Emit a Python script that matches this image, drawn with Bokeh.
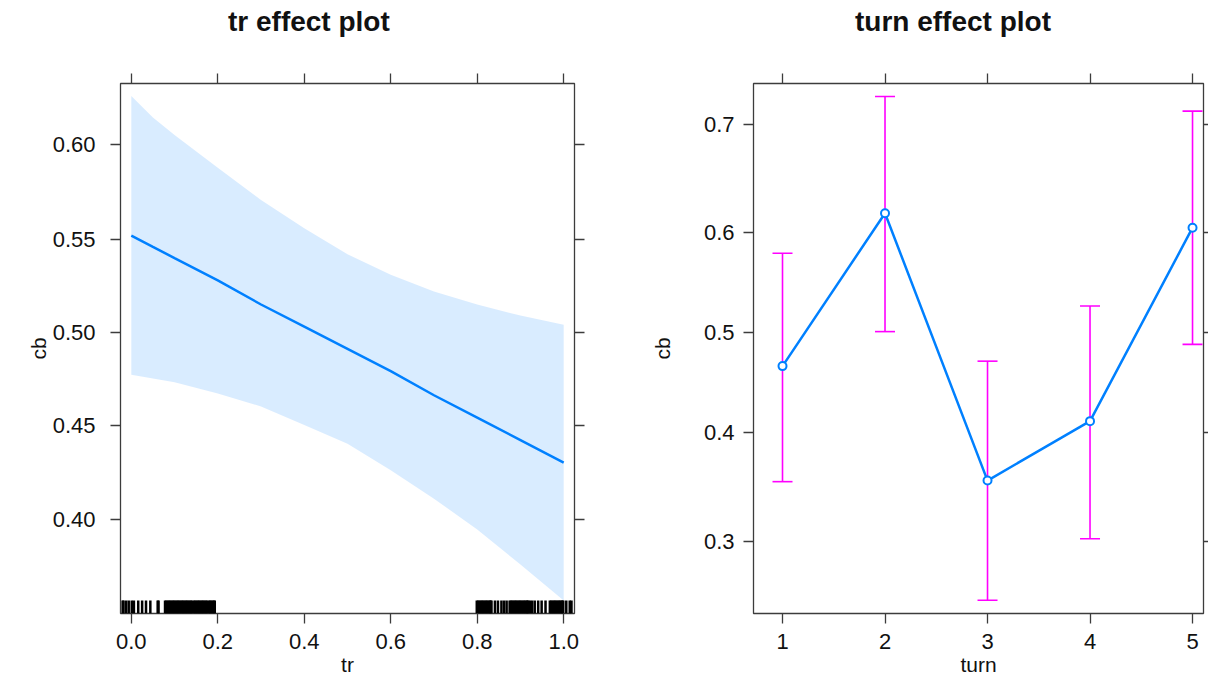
import numpy as np
from bokeh.plotting import figure
from bokeh.layouts import row, column
from bokeh.models import (Range1d, FixedTicker, LinearAxis, CustomJSTickFormatter,
                          ColumnDataSource, Whisker, TeeHead, Div)
from bokeh.embed import file_html
from bokeh.resources import INLINE

# ---------------- data ----------------
tr_x = [0.0, 0.05, 0.1, 0.2, 0.3, 0.4, 0.5, 0.6, 0.7, 0.8, 0.9, 1.0]
tr_fit = [0.552, 0.546, 0.540, 0.528, 0.515, 0.503, 0.491, 0.479, 0.466, 0.454, 0.442, 0.430]
tr_lower = [0.477, 0.475, 0.473, 0.467, 0.460, 0.450, 0.440, 0.426, 0.411, 0.395, 0.377, 0.359]
tr_upper = [0.625, 0.614, 0.605, 0.588, 0.571, 0.556, 0.542, 0.531, 0.522, 0.515, 0.509, 0.504]
tr_rug = [-0.020, -0.018, -0.012, -0.006, 0.001, 0.006, 0.016, 0.025, 0.034, 0.044,
          0.061, 0.063,
          0.078, 0.081, 0.084, 0.087, 0.090, 0.093, 0.096, 0.099, 0.102, 0.105,
          0.108, 0.111, 0.114, 0.117, 0.120, 0.123, 0.126, 0.129, 0.132, 0.135,
          0.138, 0.141,
          0.145, 0.148, 0.151, 0.154, 0.157, 0.160, 0.163, 0.166, 0.169, 0.172, 0.175,
          0.179, 0.182, 0.185, 0.188, 0.191, 0.193,
          0.799, 0.802, 0.805, 0.808, 0.811, 0.814, 0.817, 0.820, 0.823, 0.826,
          0.829, 0.831, 0.833,
          0.841, 0.848, 0.856, 0.862, 0.868,
          0.875, 0.878, 0.881, 0.884, 0.887, 0.890, 0.893, 0.896, 0.899, 0.902,
          0.905, 0.908, 0.911, 0.914, 0.916, 0.918,
          0.922, 0.927, 0.933, 0.941, 0.949, 0.958,
          0.968, 0.971, 0.974, 0.977, 0.980, 0.983, 0.986, 0.989, 0.992, 0.995,
          0.997, 0.999,
          1.006, 1.014, 1.018]
tr_xticks = [0.0, 0.2, 0.4, 0.6, 0.8, 1.0]
tr_yticks = [0.40, 0.45, 0.50, 0.55, 0.60]
tr_ylim = [0.3525, 0.6313]

turn_x = [1, 2, 3, 4, 5]
turn_fit = [0.466, 0.619, 0.354, 0.411, 0.605]
turn_lower = [0.353, 0.501, 0.252, 0.302, 0.488]
turn_upper = [0.580, 0.723, 0.471, 0.527, 0.711]
turn_xticks = [1, 2, 3, 4, 5]
turn_yticks = [0.3, 0.4, 0.5, 0.6, 0.7]
turn_ylim = [0.2420, 0.7335]

titles = ["tr effect plot", "turn effect plot"]


def logit(v):
    v = np.asarray(v, dtype=float)
    return np.log(v / (1 - v))


FONT = "Liberation Sans"
FRAME = "#3c3c3c"
BLUE = "#0080ff"
MAG = "#ff00ff"
TITLE_H = 40
H = 679 - TITLE_H
TOP = 83 - TITLE_H
BOTTOM = 66
FRAME_H = H - TOP - BOTTOM


def title_div(text, width, left):
    html = ('<div style="position:absolute; left:%dpx; top:8px; white-space:nowrap; '
            'font-family:\'Liberation Sans\'; font-size:28px; line-height:28px; '
            'font-weight:bold; color:#111111;">%s</div>' % (left, text))
    return Div(text=html, width=width, height=TITLE_H, margin=0,
               styles={"overflow": "visible", "position": "relative"})


def style(p, xticks, xdigits, yticks, ydigits, xlabel, ystand, ylabstand):
    p.grid.visible = False
    p.outline_line_color = FRAME
    p.outline_line_width = 1.3
    xa = p.xaxis[0]
    ya = p.yaxis[0]
    xa.ticker = FixedTicker(ticks=list(xticks))
    xa.formatter = CustomJSTickFormatter(code="return tick.toFixed(%d);" % xdigits)
    ya.ticker = FixedTicker(ticks=list(logit(yticks)))
    ya.formatter = CustomJSTickFormatter(
        code="return (1/(1+Math.exp(-tick))).toFixed(%d);" % ydigits)
    for ax in (xa, ya):
        ax.axis_line_color = None
        ax.major_tick_line_color = FRAME
        ax.major_tick_line_width = 1.3
        ax.major_tick_in = 0
        ax.major_tick_out = 10
        ax.minor_tick_line_color = None
        ax.major_label_text_font = FONT
        ax.major_label_text_font_size = "22px"
        ax.major_label_text_color = "#111111"
        ax.axis_label_text_font = FONT
        ax.axis_label_text_font_size = "21px"
        ax.axis_label_text_font_style = "normal"
        ax.axis_label_text_color = "#111111"
    xa.axis_label = xlabel
    ya.axis_label = "cb"
    xa.major_label_standoff = 10
    xa.axis_label_standoff = 1
    ya.major_label_standoff = ystand
    ya.axis_label_standoff = ylabstand
    empty = CustomJSTickFormatter(code="return '';")
    top = LinearAxis(ticker=FixedTicker(ticks=list(xticks)), formatter=empty)
    right = LinearAxis(ticker=FixedTicker(ticks=list(logit(yticks))), formatter=empty)
    for ax in (top, right):
        ax.axis_line_color = None
        ax.major_tick_line_color = FRAME
        ax.major_tick_line_width = 1.3
        ax.major_tick_in = 0
        ax.major_tick_out = 10
        ax.minor_tick_line_color = None
        ax.major_label_text_font_size = "0px"
        ax.major_label_standoff = 0
    p.add_layout(top, "above")
    p.add_layout(right, "right")


# ---------------- left panel: tr ----------------
ylo, yhi = float(logit(tr_ylim[0])), float(logit(tr_ylim[1]))
p1 = figure(width=631, height=H, output_backend="svg", toolbar_location=None,
            x_range=Range1d(-0.025, 1.025), y_range=Range1d(ylo, yhi),
            min_border_left=120, min_border_right=57, min_border_top=TOP,
            min_border_bottom=BOTTOM)
style(p1, tr_xticks, 1, tr_yticks, 2, "tr", 15, 0)

band_x = list(tr_x) + list(tr_x[::-1])
band_y = list(logit(tr_upper)) + list(logit(tr_lower)[::-1])
p1.patch(band_x, band_y, fill_color=BLUE, fill_alpha=0.15, line_color=None)
p1.line(tr_x, logit(tr_fit), line_color=BLUE, line_width=2.5)
rug_h = (yhi - ylo) * 13.0 / FRAME_H
p1.segment(x0=tr_rug, x1=tr_rug, y0=[ylo] * len(tr_rug), y1=[ylo + rug_h] * len(tr_rug),
           line_color="black", line_width=2.5)

# ---------------- right panel: turn ----------------
ylo2, yhi2 = float(logit(turn_ylim[0])), float(logit(turn_ylim[1]))
p2 = figure(width=577, height=H, output_backend="svg", toolbar_location=None,
            x_range=Range1d(0.717, 5.107), y_range=Range1d(ylo2, yhi2),
            min_border_left=122, min_border_right=5, min_border_top=TOP,
            min_border_bottom=BOTTOM)
style(p2, turn_xticks, 0, turn_yticks, 1, "turn", 9, 27)
p2.yaxis[1].major_tick_out = 5

src = ColumnDataSource(dict(x=turn_x, fit=logit(turn_fit),
                            lower=logit(turn_lower), upper=logit(turn_upper)))
wh = Whisker(base="x", lower="lower", upper="upper", source=src,
             line_color=MAG, line_width=1.6,
             upper_head=TeeHead(size=20, line_color=MAG, line_width=1.6),
             lower_head=TeeHead(size=20, line_color=MAG, line_width=1.6))
p2.add_layout(wh)
p2.line("x", "fit", source=src, line_color=BLUE, line_width=2.5)
p2.scatter("x", "fit", source=src, size=8, fill_color="white", line_color=BLUE,
           line_width=2)

layout = row(column(title_div(titles[0], 631, 108 + 120), p1, spacing=0),
             column(title_div(titles[1], 577, 102 + 122), p2, spacing=0), spacing=0)
open("out.html", "w").write(file_html(layout, INLINE))
